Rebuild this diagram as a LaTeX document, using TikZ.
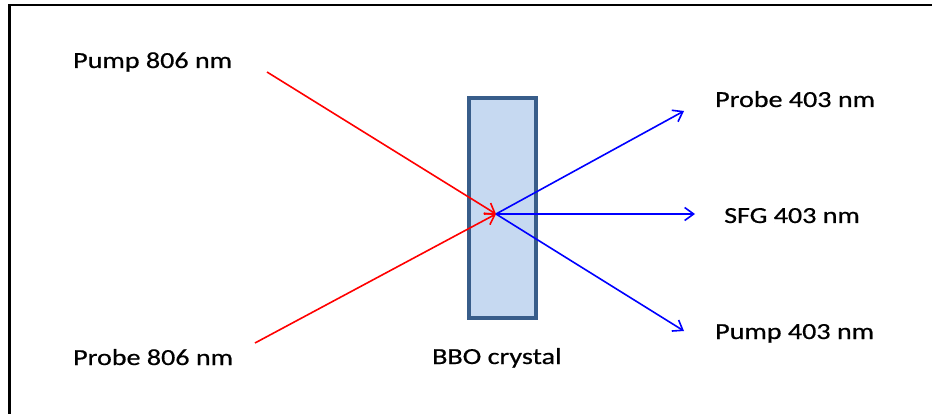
\documentclass[tikz,border=0pt]{standalone}
\usepackage{fontspec}
\setmainfont{Carlito}[FakeStretch=1.22,FakeBold=0.6]
\usetikzlibrary{arrows.meta,positioning}
\definecolor{crystalborder}{RGB}{56,93,138}
\definecolor{crystalfill}{RGB}{198,217,241}

\begin{document}
\begin{tikzpicture}[
    x=1pt, y=-1pt,
    beam/.style={line width=1.6pt, -{Straight Barb[length=9pt,width=13pt,line width=1.6pt]}},
    pumpbeam/.style={beam, red},
    shgbeam/.style={beam, blue},
    crystal/.style={rectangle, draw=crystalborder, fill=crystalfill, line width=4pt, minimum width=67pt, minimum height=220pt, inner sep=0pt},
    label/.style={font=\fontsize{23}{27}\selectfont, text=black, inner sep=0pt, anchor=base west}
]
\useasboundingbox (0,0) rectangle (932,414);

% Frame (top and left only)
\draw[line width=2.5pt] (9.5,414) -- (9.5,5) -- (932,5);

% BBO crystal
\node[crystal] (bbo) at (502.5,208) {};
\node[label] (bbolabel) at (432,364) {BBO crystal};
\coordinate (focus) at (496,214);

% Input beams
\coordinate (pumpin) at (267,72);
\coordinate (probein) at (255,343);
\node[label] (pumplabel) at (73,68) {Pump 806 nm};
\node[label] (probelabel) at (73,365) {Probe 806 nm};
\draw[pumpbeam] (pumpin) -- (focus);
\draw[pumpbeam] (probein) -- (focus);

% Output beams
\coordinate (probeout) at (684,111);
\coordinate (sfgout) at (695,214);
\coordinate (pumpout) at (684,331);
\node[label] (probeoutlabel) at (715,107) {Probe 403 nm};
\node[label] (sfglabel) at (724,223) {SFG 403 nm};
\node[label] (pumpoutlabel) at (715,339) {Pump 403 nm};
\draw[shgbeam] (focus) -- (probeout);
\draw[shgbeam] (focus) -- (sfgout);
\draw[shgbeam] (focus) -- (pumpout);

\end{tikzpicture}
\end{document}
